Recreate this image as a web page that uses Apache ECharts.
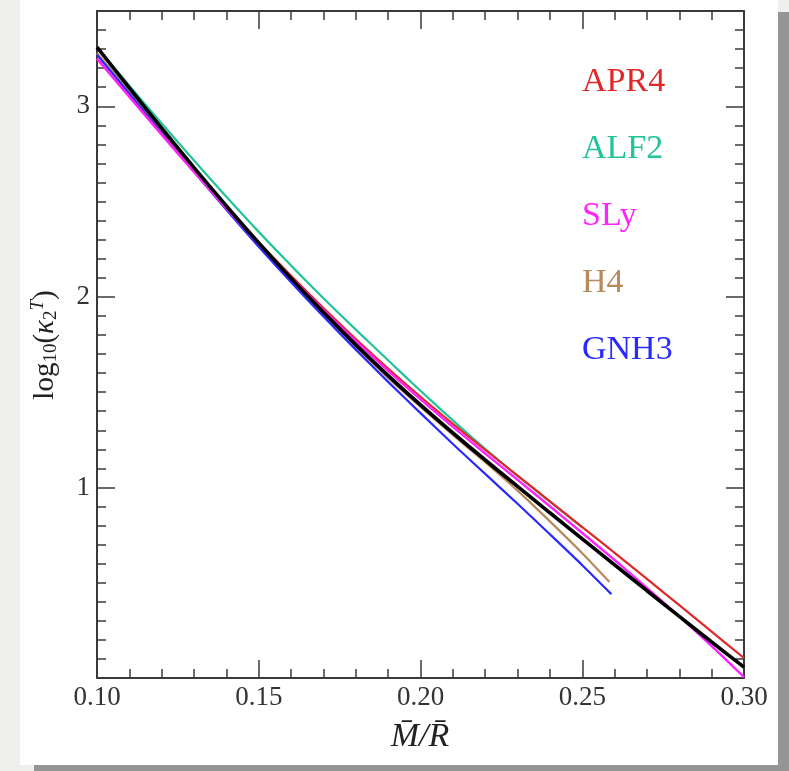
<!DOCTYPE html>
<html>
<head>
<meta charset="utf-8">
<script src="https://cdn.jsdelivr.net/npm/echarts@6/dist/echarts.min.js"></script>
<style>html,body{margin:0;padding:0;background:#efefed;}#c{width:789px;height:771px;}</style>
</head>
<body>
<div id="c"></div>
<script>
// ---- data ----
const xGrid = [0.10,0.11,0.12,0.13,0.14,0.15,0.16,0.17,0.18,0.19,0.20,0.21,0.22,0.23,0.24,0.25,0.26,0.27,0.28,0.29,0.30];
const apr4 = [3.25,3.051,2.853,2.658,2.469,2.286,2.11,1.941,1.779,1.624,1.476,1.334,1.197,1.062,0.927,0.792,0.657,0.52,0.382,0.243,0.105];
const alf2X = [0.10,0.11,0.12,0.13,0.14,0.15,0.16,0.17,0.18,0.19,0.20,0.21,0.22,0.23,0.24,0.25];
const alf2 = [3.31,3.108,2.91,2.715,2.525,2.341,2.164,1.993,1.828,1.667,1.507,1.352,1.202,1.06,0.925,0.79];
const sly = [3.25,3.05,2.851,2.655,2.464,2.279,2.101,1.931,1.768,1.612,1.462,1.318,1.178,1.04,0.901,0.761,0.619,0.473,0.323,0.167,0.005];
const h4X = [0.10,0.11,0.12,0.13,0.14,0.15,0.16,0.17,0.18,0.19,0.20,0.21,0.22,0.23,0.24,0.25,0.2584];
const h4 = [3.28,3.075,2.87,2.665,2.463,2.27,2.085,1.907,1.737,1.575,1.423,1.276,1.132,0.983,0.822,0.655,0.504];
const gnh3X = [0.10,0.11,0.12,0.13,0.14,0.15,0.16,0.17,0.18,0.19,0.20,0.21,0.22,0.23,0.24,0.25,0.259];
const gnh3 = [3.27,3.066,2.86,2.656,2.457,2.263,2.077,1.897,1.723,1.554,1.39,1.228,1.071,0.914,0.754,0.592,0.44];
const fit = [3.31,3.096,2.885,2.678,2.477,2.283,2.097,1.919,1.749,1.587,1.433,1.286,1.144,1.005,0.867,0.73,0.594,0.458,0.323,0.189,0.057];
const yTickLabels = ['1','2','3'];
const xTickLabels = ['0.10','0.15','0.20','0.25','0.30'];
const names = ['APR4','ALF2','SLy','H4','GNH3'];
const colors = {APR4:'#e02828', ALF2:'#22c39a', SLy:'#ff22ff', H4:'#b8895a', GNH3:'#2a2aff'};

const pairs = (xs, ys) => ys.map((v,i)=>[xs[i], v]);
const serif = 'Liberation Serif';
const axisCol = '#3a3a3a';

function xAxisDef(pos, labels) {
  return {
    type:'value', position:pos, min:0.10, max:0.30, interval:0.05,
    axisLine:{show:true, onZero:false, lineStyle:{color:axisCol, width:2}},
    axisTick:{show:true, inside:true, length:18, lineStyle:{color:axisCol, width:1.5}},
    minorTick:{show:true, splitNumber:5, length:9, lineStyle:{color:axisCol, width:1.5}},
    splitLine:{show:false}, minorSplitLine:{show:false},
    axisLabel:{show:labels, margin:6, fontFamily:serif, fontSize:27, color:'#333',
      formatter:(v)=>{const s=v.toFixed(2); return xTickLabels.includes(s)?s:'';}}
  };
}
function yAxisDef(pos, major) {
  return {
    type:'value', position:pos, min:0, max:3.5, interval: major?1:0.5,
    axisLine:{show:!major, onZero:false, lineStyle:{color:axisCol, width:2}},
    axisTick:{show:true, inside:true, length: major?18:9, lineStyle:{color:axisCol, width:1.5}},
    minorTick:{show:!major, splitNumber:5, length:9, lineStyle:{color:axisCol, width:1.5}},
    splitLine:{show:false}, minorSplitLine:{show:false},
    axisLabel:{show: major && pos==='left', margin:7, fontFamily:serif, fontSize:27, color:'#333',
      formatter:(v)=>{const s=String(Math.round(v)); return (Math.abs(v-Math.round(v))<1e-6 && yTickLabels.includes(s))?s:'';}}
  };
}

function line(name, data, color, width, z) {
  return {name, type:'line', data, xAxisIndex:0, yAxisIndex:0, showSymbol:false, symbol:'none',
    smooth:0.25, lineStyle:{color, width}, itemStyle:{color}, z, animation:false, silent:true};
}

const chart = echarts.init(document.getElementById('c'), null, {renderer:'canvas'});
chart.setOption({
  backgroundColor:'#efefed',
  animation:false,
  grid:{left:97, right:45, top:11, bottom:93, containLabel:false},
  xAxis:[xAxisDef('bottom', true), xAxisDef('top', false)],
  yAxis:[yAxisDef('left', false), yAxisDef('left', true), yAxisDef('right', false), yAxisDef('right', true)],
  legend:{
    orient:'vertical', left:572, top:60, itemGap:33, itemWidth:0, itemHeight:34,
    selectedMode:false, icon:'none',
    textStyle:{fontFamily:serif, fontSize:34},
    data: names.map(n=>({name:n, icon:'none', textStyle:{color:colors[n]}}))
  },
  graphic:[
    {type:'rect', z:-100, silent:true, shape:{x:20, y:0, width:758, height:765}, style:{fill:'#ffffff'}},
    {type:'rect', z:-100, silent:true, shape:{x:778, y:12, width:11, height:759}, style:{fill:'#959595'}},
    {type:'rect', z:-100, silent:true, shape:{x:34, y:765, width:755, height:6}, style:{fill:'#959595'}},
    {type:'text', silent:true, x:420, y:737, style:{
      text:'M\u0304/R\u0304', font:'italic 34px "Liberation Serif"', fill:'#222', align:'center', verticalAlign:'middle'}},
    {type:'text', silent:true, x:45, y:345, rotation:Math.PI/2, style:{
      text:'{n|log}{s|10}{n|(}{i|κ}{s|2}{p|T}{n|)}', align:'center', verticalAlign:'middle', fill:'#222',
      rich:{
        n:{fontFamily:serif, fontSize:29, fill:'#222'},
        i:{fontFamily:serif, fontStyle:'italic', fontSize:29, fill:'#222'},
        s:{fontFamily:serif, fontSize:19, fill:'#222', padding:[12,0,0,0]},
        p:{fontFamily:serif, fontStyle:'italic', fontSize:19, fill:'#222', padding:[0,0,14,0]}
      }}}
  ],
  series:[
    line('ALF2', pairs(alf2X, alf2), colors.ALF2, 2.2, 3),
    line('H4', pairs(h4X, h4), colors.H4, 2.2, 4),
    line('GNH3', pairs(gnh3X, gnh3), colors.GNH3, 2.2, 4),
    line('APR4', pairs(xGrid, apr4), colors.APR4, 2.2, 5),
    line('SLy', pairs(xGrid, sly), colors.SLy, 2.4, 6),
    line('fit', pairs(xGrid, fit), '#000000', 3.6, 7)
  ]
});
</script>
</body>
</html>
